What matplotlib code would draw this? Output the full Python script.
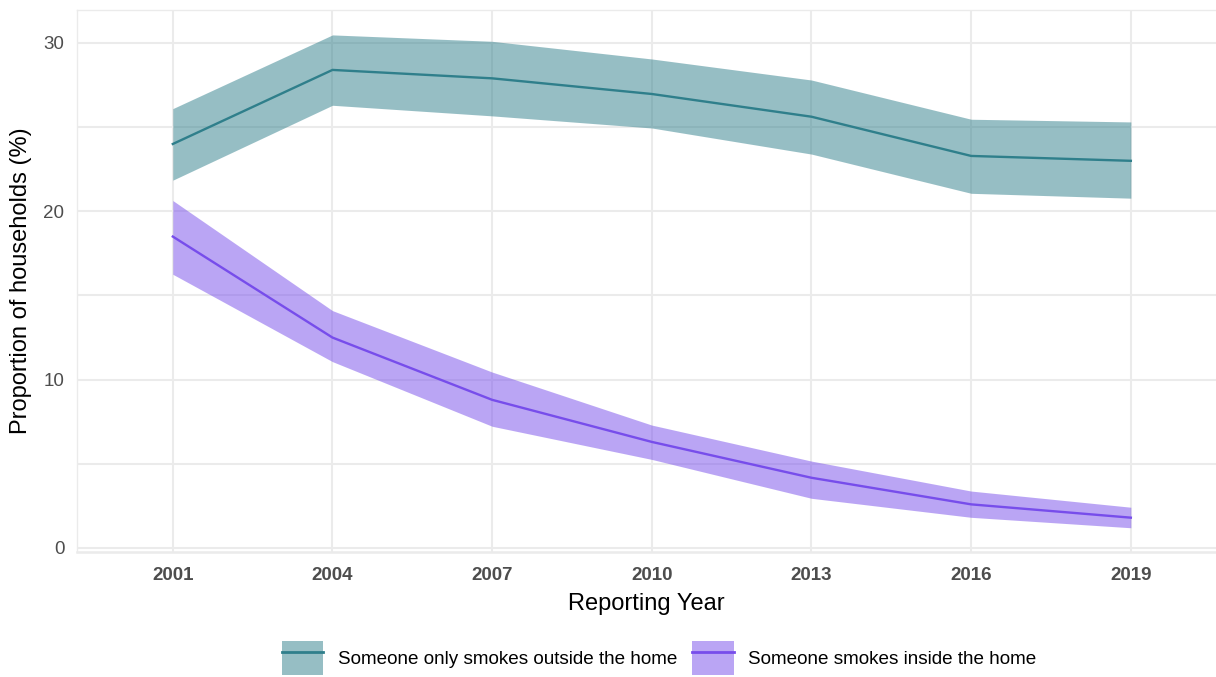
import matplotlib
matplotlib.use("Agg")
import matplotlib.pyplot as plt
from matplotlib.patches import Patch
from matplotlib.lines import Line2D

plt.rcParams['font.family'] = ['Liberation Sans', 'DejaVu Sans']

years = [2001, 2004, 2007, 2010, 2013, 2016, 2019]

outside_label = "Someone only smokes outside the home"
outside_mid = [24.0, 28.4, 27.9, 26.97, 25.62, 23.29, 23.0]
outside_low = [21.85, 26.3, 25.67, 24.95, 23.4, 21.07, 20.78]
outside_high = [26.1, 30.48, 30.1, 29.05, 27.8, 25.47, 25.31]

inside_label = "Someone smokes inside the home"
inside_mid = [18.5, 12.5, 8.8, 6.3, 4.17, 2.59, 1.80]
inside_low = [16.26, 11.07, 7.23, 5.26, 2.95, 1.82, 1.2]
inside_high = [20.64, 14.1, 10.45, 7.3, 5.16, 3.38, 2.42]

teal = "#2F7F8B"
purple = "#774DEB"
grid_col = "#EBEBEB"
tick_col = "#4D4D4D"

fig = plt.figure(figsize=(12.16, 6.77), dpi=100)
ax = fig.add_axes([77 / 1216, 1 - 552 / 677, 1 - 77 / 1216, (552 - 10) / 677])

ax.fill_between(years, outside_low, outside_high, color=teal, alpha=0.5, lw=0, zorder=2)
ax.plot(years, outside_mid, color=teal, lw=1.7, zorder=3)
ax.fill_between(years, inside_low, inside_high, color=purple, alpha=0.5, lw=0, zorder=2)
ax.plot(years, inside_mid, color=purple, lw=1.7, zorder=3)

ax.set_xlim(1999.2, 2020.6)
ax.set_ylim(-0.24, 31.96)
ax.set_xticks(years)
ax.set_xticklabels([str(y) for y in years], fontweight='bold', fontsize=13.8)
ax.set_yticks([0, 10, 20, 30])
ax.set_yticks([5, 15, 25], minor=True)
ax.tick_params(axis='both', which='both', length=0, colors=tick_col, labelsize=13.5)
ax.tick_params(axis='x', pad=11)
ax.tick_params(axis='y', pad=9)

ax.grid(True, which='major', color=grid_col, lw=1.5, zorder=0)
ax.grid(True, which='minor', axis='y', color=grid_col, lw=1.5, zorder=0)
ax.set_axisbelow(True)

for side in ['top', 'left']:
    ax.spines[side].set_color(grid_col)
    ax.spines[side].set_linewidth(1.0)
ax.spines['bottom'].set_color(grid_col)
ax.spines['bottom'].set_linewidth(1.8)
ax.spines['right'].set_visible(False)

ax.set_xlabel("Reporting Year", fontsize=17, labelpad=6)
ax.set_ylabel("Proportion of households (%)", fontsize=17, labelpad=8)

handles = [
    (Patch(facecolor=teal, alpha=0.5, lw=0), Line2D([], [], color=teal, lw=2)),
    (Patch(facecolor=purple, alpha=0.5, lw=0), Line2D([], [], color=purple, lw=2)),
]
fig.legend(handles, [outside_label, inside_label], loc='center',
           bbox_to_anchor=(659 / 1216, 1 - 658 / 677), ncol=2, frameon=False,
           fontsize=13.6, handlelength=2.2, handleheight=2.4,
           handletextpad=0.75, columnspacing=0.8)

fig.savefig("out.png", dpi=100)
